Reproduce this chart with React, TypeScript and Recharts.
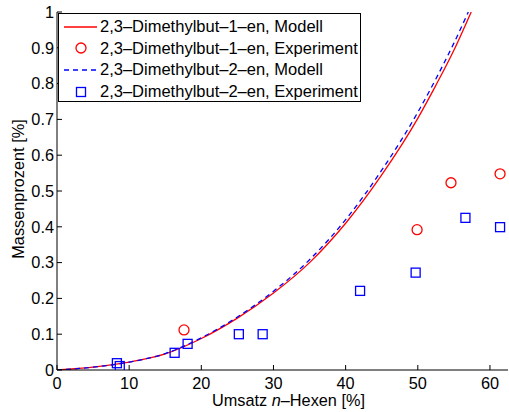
import React from "react";
import { ComposedChart, Line, Scatter, XAxis, YAxis, Legend } from "recharts";

const FONT = "'Liberation Sans', Arial, Helvetica, sans-serif";
const RED = "#ff0000";
const BLUE = "#0000ff";

const xTicks = [0, 10, 20, 30, 40, 50, 60];
const yTicks = [0, 0.1, 0.2, 0.3, 0.4, 0.5, 0.6, 0.7, 0.8, 0.9, 1];

// model curves (Umsatz in %, Massenprozent in %)
const model1X = [0, 5, 10, 15, 20, 25, 30, 35, 40, 45, 50, 52.5, 55, 57.4];
const model1Y = [0, 0.008, 0.022, 0.045, 0.088, 0.145, 0.215, 0.3, 0.41, 0.545, 0.703, 0.795, 0.893, 1];
const model2X = [0, 5, 10, 15, 20, 25, 30, 35, 40, 45, 50, 52.5, 55, 57.0];
const model2Y = [0, 0.008, 0.022, 0.046, 0.09, 0.148, 0.22, 0.308, 0.42, 0.558, 0.72, 0.813, 0.913, 1];

// measured points
const exp1X = [17.6, 49.9, 54.6, 61.4];
const exp1Y = [0.112, 0.392, 0.523, 0.548];
const exp2X = [8.3, 8.7, 16.3, 18.1, 25.2, 28.5, 42.0, 49.7, 56.6, 61.4];
const exp2Y = [0.019, 0.011, 0.048, 0.073, 0.1, 0.1, 0.221, 0.272, 0.425, 0.399];

const toPoints = (xs: number[], ys: number[]) => xs.map((x, i) => ({ x, y: ys[i] }));

const model1 = toPoints(model1X, model1Y);
const model2 = toPoints(model2X, model2Y);
const exp1 = toPoints(exp1X, exp1Y);
const exp2 = toPoints(exp2X, exp2Y);

const SERIES_NAMES = [
  "2,3\u2013Dimethylbut\u20131\u2013en, Modell",
  "2,3\u2013Dimethylbut\u20131\u2013en, Experiment",
  "2,3\u2013Dimethylbut\u20132\u2013en, Modell",
  "2,3\u2013Dimethylbut\u20132\u2013en, Experiment",
];

const Circle = (p: any) => (
  <circle cx={p.cx} cy={p.cy} r={5} fill="none" stroke={RED} strokeWidth={1.3} />
);
const Square = (p: any) => (
  <rect x={p.cx - 4.5} y={p.cy - 4.5} width={9} height={9} fill="none" stroke={BLUE} strokeWidth={1.3} />
);

const legendIcons = [
  <line x1={5} x2={38} y1={10} y2={10} stroke={RED} strokeWidth={1.3} />,
  <circle cx={22} cy={10} r={5} fill="none" stroke={RED} strokeWidth={1.3} />,
  <line x1={5} x2={38} y1={10} y2={10} stroke={BLUE} strokeWidth={1.3} strokeDasharray="5 4" />,
  <rect x={17.5} y={5.5} width={9} height={9} fill="none" stroke={BLUE} strokeWidth={1.3} />,
];

const renderLegend = () => (
  <div
    style={{
      width: 303,
      height: 89,
      boxSizing: "border-box",
      border: "1px solid #000",
      background: "#fff",
      paddingTop: 2,
      fontFamily: FONT,
      fontSize: 16.5,
      color: "#000",
    }}
  >
    {SERIES_NAMES.map((name, i) => (
      <div key={name} style={{ position: "relative", height: 21.6, lineHeight: "21.6px", whiteSpace: "nowrap" }}>
        <svg width={40} height={20} style={{ position: "absolute", left: 0, top: 0.8 }}>
          {legendIcons[i]}
        </svg>
        <span style={{ position: "absolute", left: 41, top: 0 }}>{name}</span>
      </div>
    ))}
  </div>
);

const XLabel = (props: any) => {
  const vb = props.viewBox;
  return (
    <text
      x={vb.x + vb.width / 2 + 6}
      y={vb.y + vb.height - 6}
      textAnchor="middle"
      fontFamily={FONT}
      fontSize={16.3}
      fill="#000"
    >
      Umsatz <tspan fontStyle="italic">n</tspan>{"\u2013Hexen [%]"}
    </text>
  );
};

const YLabel = (props: any) => {
  const vb = props.viewBox;
  const x = vb.x + 24;
  const y = vb.y + vb.height / 2 - 2;
  return (
    <text x={x} y={y} transform={`rotate(-90, ${x}, ${y})`} textAnchor="middle" fontFamily={FONT} fontSize={16.3} fill="#000">
      Massenprozent [%]
    </text>
  );
};

const tickStyle = { fontFamily: FONT, fontSize: 16.3, fill: "#000" };
const axisLine = { stroke: "#000", strokeWidth: 1 };

export default function App() {
  return (
    <div style={{ position: "absolute", left: 0, top: 0, background: "#fff" }}>
      <ComposedChart width={509} height={412} margin={{ top: 12, right: 1, bottom: 0, left: 0 }}>
        <XAxis
          xAxisId="b"
          type="number"
          dataKey="x"
          domain={[0, 62.5]}
          ticks={xTicks}
          allowDataOverflow
          height={42}
          tickSize={-5}
          tickMargin={12}
          tick={tickStyle}
          tickLine={axisLine}
          axisLine={axisLine}
          label={<XLabel />}
        />
        <XAxis
          xAxisId="t"
          orientation="top"
          type="number"
          dataKey="x"
          domain={[0, 62.5]}
          ticks={xTicks}
          allowDataOverflow
          height={0}
          tickSize={-5}
          tick={false}
          tickLine={axisLine}
          axisLine={axisLine}
        />
        <YAxis
          yAxisId="l"
          type="number"
          dataKey="y"
          domain={[0, 1]}
          ticks={yTicks}
          allowDataOverflow
          width={57}
          tickSize={-5}
          tickMargin={8}
          tick={tickStyle}
          tickLine={axisLine}
          axisLine={axisLine}
          label={<YLabel />}
        />
        <YAxis
          yAxisId="r"
          orientation="right"
          type="number"
          dataKey="y"
          domain={[0, 1]}
          ticks={yTicks}
          allowDataOverflow
          width={0}
          tickSize={-5}
          tick={false}
          tickLine={axisLine}
          axisLine={axisLine}
        />
        <Line
          xAxisId="b"
          yAxisId="l"
          data={model1}
          dataKey="y"
          name={SERIES_NAMES[0]}
          type="monotone"
          stroke={RED}
          strokeWidth={1.3}
          dot={false}
          activeDot={false}
          isAnimationActive={false}
        />
        <Line
          xAxisId="b"
          yAxisId="l"
          data={model2}
          dataKey="y"
          name={SERIES_NAMES[2]}
          type="monotone"
          stroke={BLUE}
          strokeWidth={1.3}
          strokeDasharray="5 4"
          dot={false}
          activeDot={false}
          isAnimationActive={false}
        />
        <Scatter
          xAxisId="b"
          yAxisId="l"
          data={exp1}
          dataKey="y"
          name={SERIES_NAMES[1]}
          shape={Circle}
          isAnimationActive={false}
        />
        <Scatter
          xAxisId="b"
          yAxisId="l"
          data={exp2}
          dataKey="y"
          name={SERIES_NAMES[3]}
          shape={Square}
          isAnimationActive={false}
        />
        <Legend
          layout="vertical"
          align="center"
          verticalAlign="middle"
          content={renderLegend}
          wrapperStyle={{ left: 58, top: 13, width: 303 }}
        />
      </ComposedChart>
    </div>
  );
}
